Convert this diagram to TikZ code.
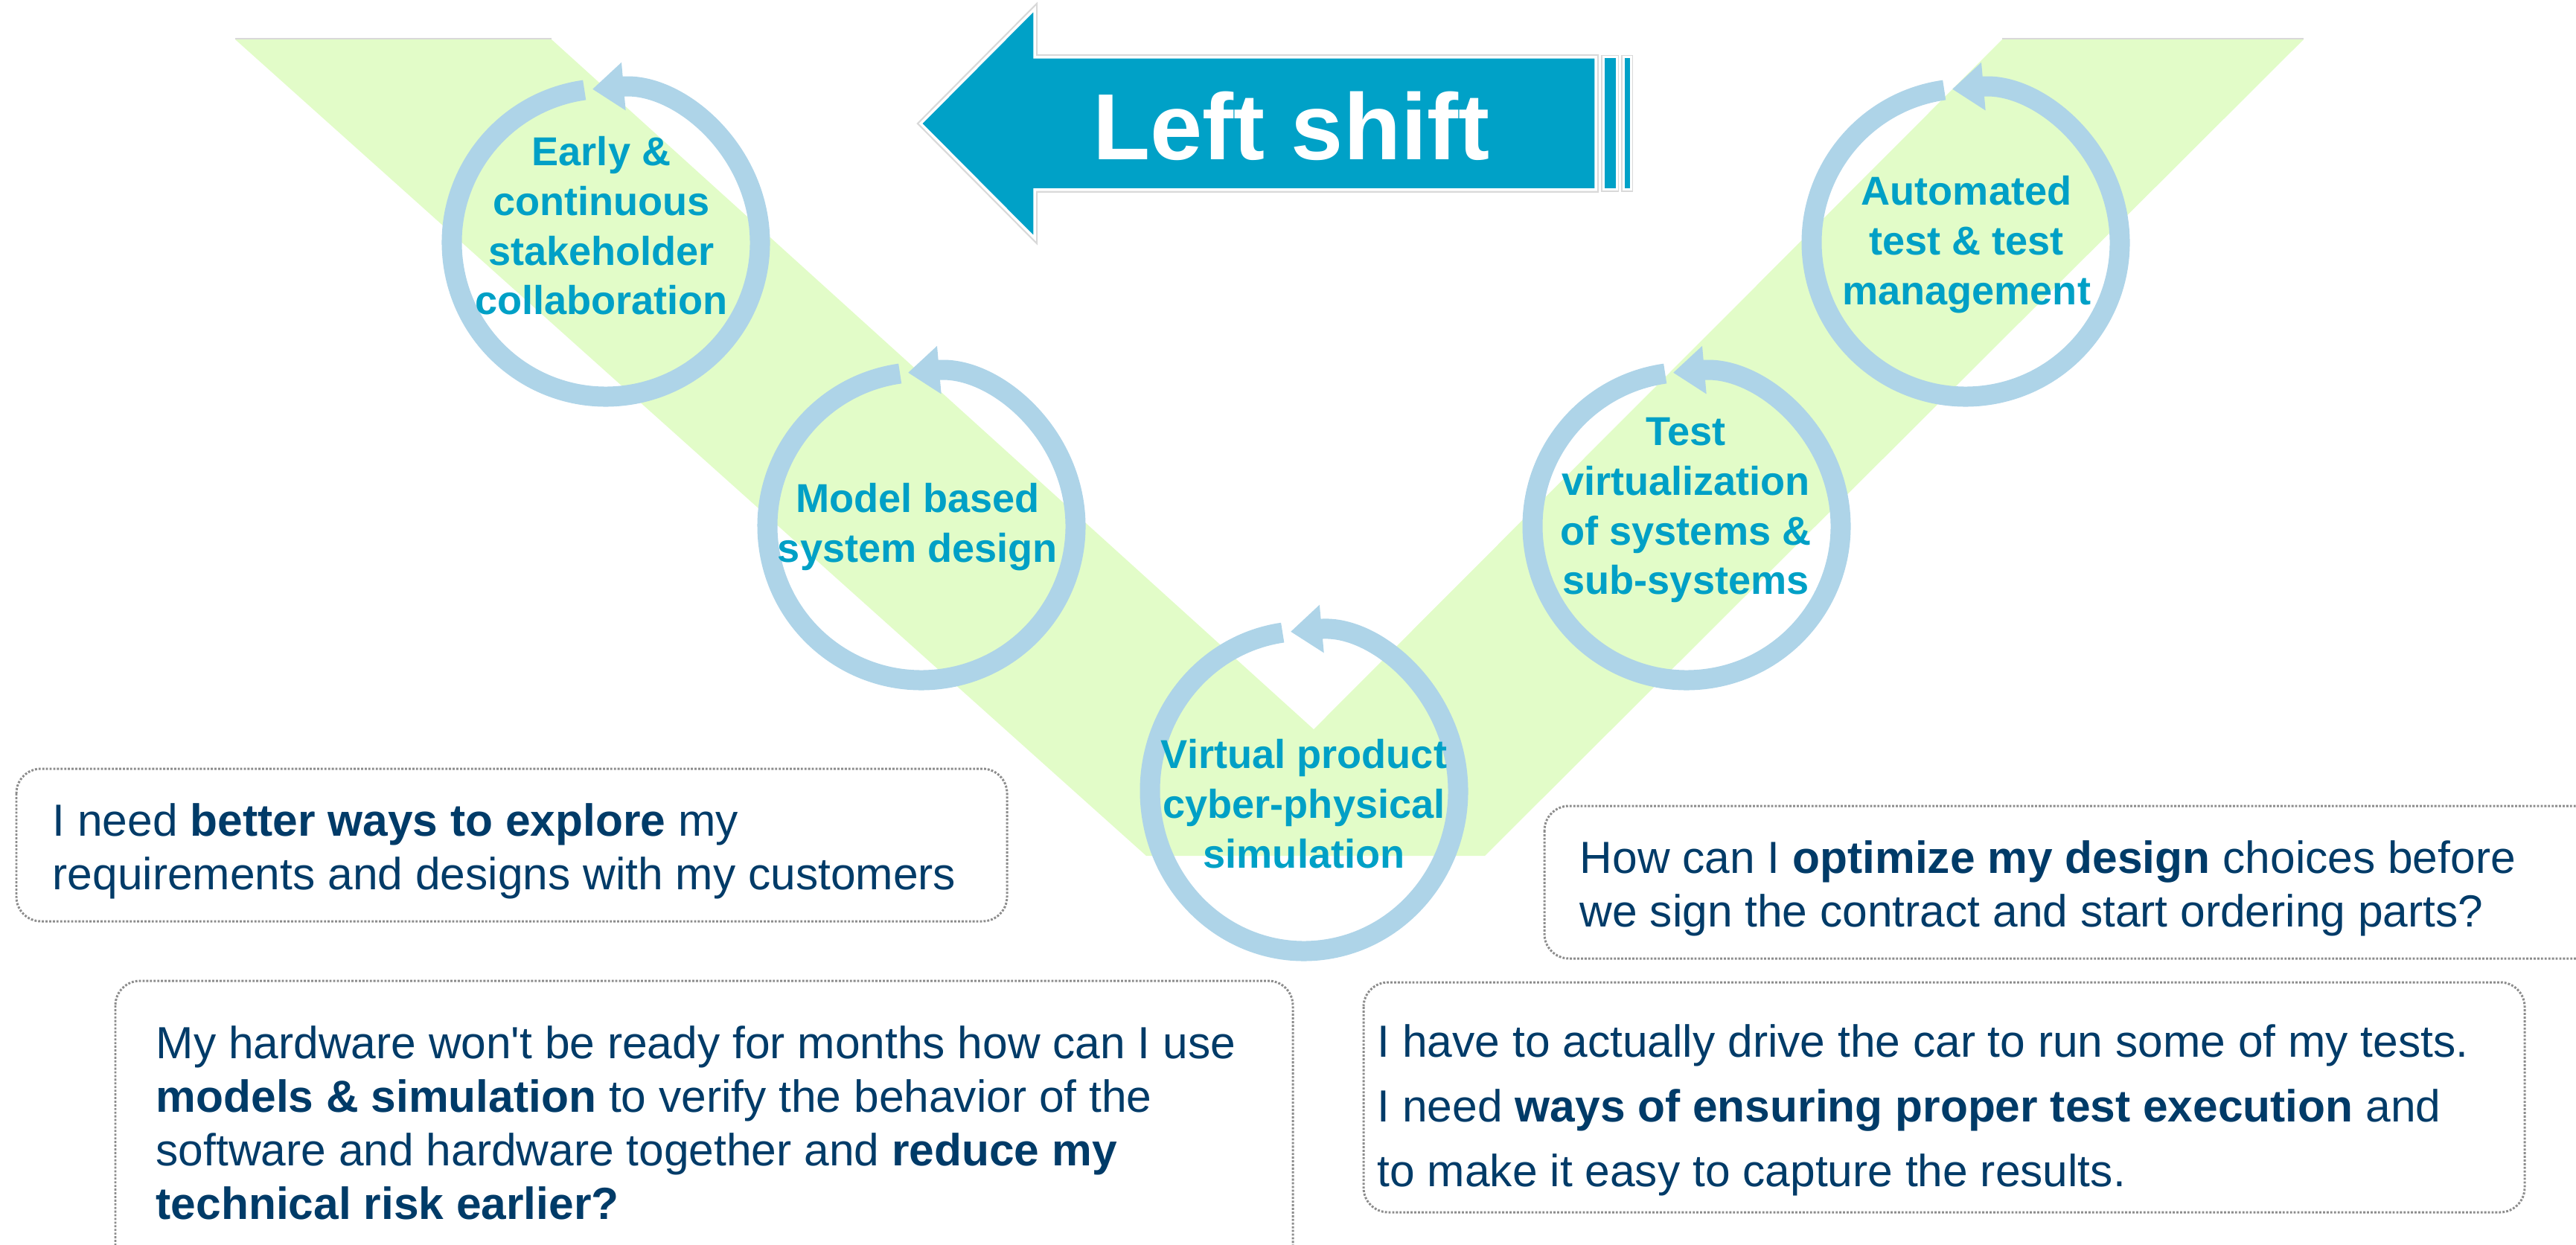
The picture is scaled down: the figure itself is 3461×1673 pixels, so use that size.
\documentclass[tikz,border=0pt]{standalone}
\usepackage{fontspec}
\setmainfont{Liberation Sans}
\usetikzlibrary{arrows.meta,calc}
\definecolor{vgreen}{RGB}{226,252,200}
\definecolor{ringblue}{RGB}{174,212,232}
\definecolor{cyantext}{RGB}{0,160,198}
\definecolor{arrowblue}{RGB}{0,161,199}
\definecolor{navy}{RGB}{0,59,104}
\definecolor{dotgray}{RGB}{140,140,140}
\begin{document}
\begin{tikzpicture}[x=0.01cm,y=0.01cm,
  ring/.style={draw=ringblue, line width=0.27cm, -{Triangle[width=0.62cm,length=0.42cm]}},
  circtext/.style={anchor=north, align=center, inner sep=0pt, text=cyantext, font=\fontsize{15.4}{19}\selectfont\bfseries},
  boxtext/.style={anchor=north west, align=left, inner sep=0pt, text=navy, font=\fontsize{17.2}{20.4}\selectfont},
  qbox/.style={draw=dotgray, line width=0.85pt, dash pattern=on 0.8pt off 0.6pt, rounded corners=0.33cm, fill=white},
]
\useasboundingbox (0,0) rectangle (3461,-1673);
\clip (0,0) rectangle (3461,-1673);

% V background
\fill[vgreen] (316,-53) -- (741,-53) -- (1765,-980) -- (2690,-53) -- (3095,-53) -- (1995,-1150) -- (1540,-1150) -- cycle;
\draw[black!15, line width=0.02cm] (316,-52) -- (741,-52);
\draw[black!15, line width=0.02cm] (2690,-52) -- (3095,-52);

% Left shift arrow
\draw[black!15, line width=0.08cm, line join=miter] (1237,-166) -- (1390,-12) -- (1390,-77) -- (2144,-77) -- (2144,-255) -- (1390,-255) -- (1390,-320) -- cycle;
\draw[white, line width=0.035cm, fill=arrowblue, line join=miter] (1237,-166) -- (1390,-12) -- (1390,-77) -- (2144,-77) -- (2144,-255) -- (1390,-255) -- (1390,-320) -- cycle;
\draw[black!15, line width=0.06cm] (2154,-77) rectangle (2172,-255);
\draw[white, line width=0.03cm, fill=arrowblue] (2154,-77) rectangle (2172,-255);
\draw[black!15, line width=0.06cm] (2181,-77) rectangle (2191,-255);
\draw[white, line width=0.03cm, fill=arrowblue] (2181,-77) rectangle (2191,-255);
\node[text=white, font=\fontsize{35.9}{40}\selectfont\bfseries, inner sep=0pt] (shift) at (1735,-169) {Left shift};

% circle centres
\coordinate (c1) at (814,-326);
\coordinate (c2) at (1238,-707);
\coordinate (c3) at (1752,-1063);
\coordinate (c4) at (2266,-707);
\coordinate (c5) at (2641,-326);

\foreach \c in {c1,c2,c4,c5}
  \draw[ring] ($(\c)+(98:207)$) arc[start angle=98, end angle=455, radius=207];
\draw[ring] ($(c3)+({207*cos(98)},{215*sin(98)})$) arc[start angle=98, end angle=455, x radius=207, y radius=215];

\node[circtext] (t1) at (808,-175) {\strut Early \&\\continuous\\stakeholder\\collaboration};
\node[circtext] (t2) at (1233,-641) {\strut Model based\\system design};
\node[circtext] (t3) at (1752,-985) {\strut Virtual product\\cyber-physical\\simulation};
\node[circtext] (t4) at (2265,-551) {\strut Test\\virtualization\\of systems \&\\sub-systems};
\node[circtext] (t5) at (2642,-228) {\strut Automated\\test \& test\\management};

% question boxes
\draw[qbox] (22,-1033) rectangle (1353,-1238);
\node[boxtext] (q1) at (70,-1073) {\strut I need \textbf{better ways to explore} my\\requirements and designs with my customers};

\draw[qbox] (2075,-1083) rectangle (3600,-1288);
\node[boxtext] (q2) at (2122,-1123) {\strut How can I \textbf{optimize my design} choices before\\we sign the contract and start ordering parts?};

\draw[qbox] (155,-1318) rectangle (1737,-1780);
\node[boxtext] (q3) at (209,-1372) {\strut My hardware won\textquotesingle t be ready for months how can I use\\\textbf{models \& simulation} to verify the behavior of the\\software and hardware together and \textbf{reduce my}\\\textbf{technical risk earlier?}};

\draw[qbox] (1832,-1320) rectangle (3392,-1629);
\node[boxtext, font=\fontsize{17.2}{24.7}\selectfont] (q4) at (1850,-1359) {\strut I have to actually drive the car to run some of my tests.\\I need \textbf{ways of ensuring proper test execution} and\\to make it easy to capture the results.};
\end{tikzpicture}
\end{document}
